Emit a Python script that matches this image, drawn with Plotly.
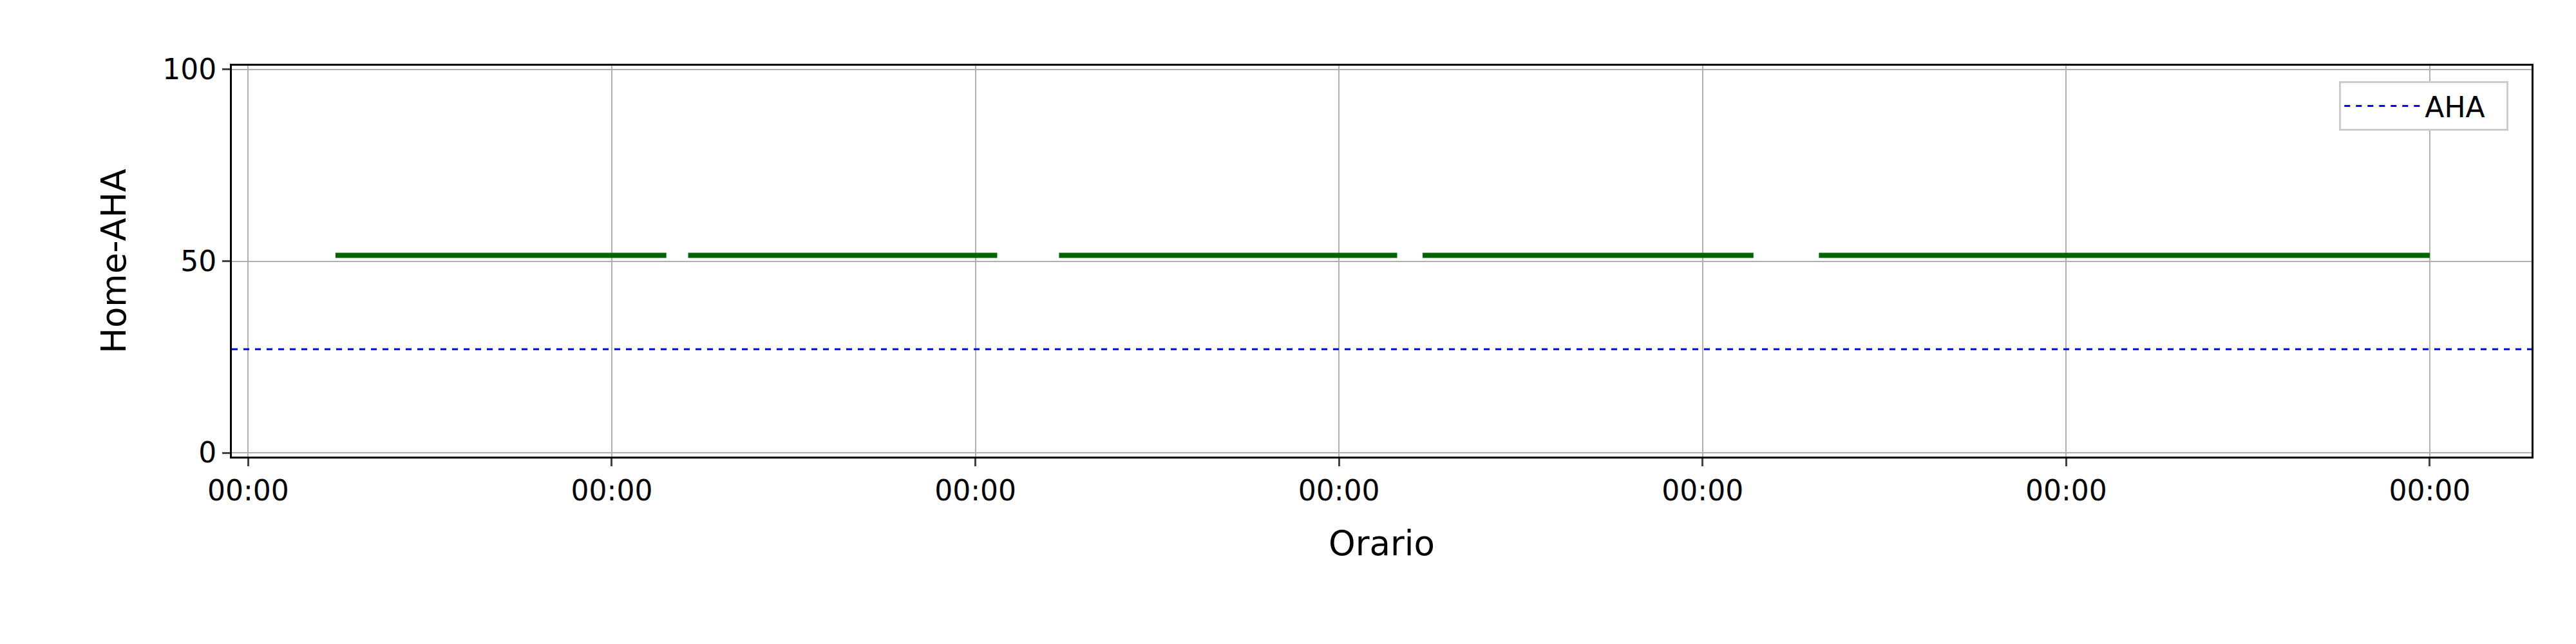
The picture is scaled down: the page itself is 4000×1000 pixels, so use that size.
import plotly.graph_objects as go

# green segments (start, end) in tick units, all at the same level
seg_start = [0.24, 1.21, 2.23, 3.23, 4.32]
seg_end = [1.15, 2.06, 3.16, 4.14, 6.0]
seg_level = 51.5
aha_level = 27
tick_vals = [0, 1, 2, 3, 4, 5, 6]
tick_text = ["00:00"] * 7
x_range = [-0.045, 6.28]

fig = go.Figure()
xs, ys = [], []
for a, b in zip(seg_start, seg_end):
    xs += [a, b, None]
    ys += [seg_level, seg_level, None]
fig.add_trace(go.Scatter(x=xs, y=ys, mode="lines", line=dict(color="#006400", width=8),
                         showlegend=False))
fig.add_trace(go.Scatter(x=x_range, y=[aha_level, aha_level], mode="lines", name="AHA  ",
                         line=dict(color="blue", width=3, dash="dash")))

fig.update_layout(
    width=4000, height=1000,
    margin=dict(l=352, r=77, t=94, b=299),
    plot_bgcolor="white", paper_bgcolor="white",
    font=dict(family="DejaVu Sans", size=44, color="black"),
    legend=dict(x=0.99, y=0.96, xanchor="right", yanchor="top", itemwidth=120,
                bordercolor="#cccccc", borderwidth=3, font=dict(size=44)),
)
fig.update_xaxes(range=x_range, tickvals=tick_vals, ticktext=tick_text,
                 showgrid=True, gridcolor="#b0b0b0", gridwidth=2,
                 showline=True, linecolor="black", linewidth=3, mirror=True,
                 ticks="outside", ticklen=12, tickwidth=3, zeroline=False,
                 title=dict(text="Orario", standoff=40))
fig.update_yaxes(range=[-1, 101], tickvals=[0, 50, 100],
                 showgrid=True, gridcolor="#b0b0b0", gridwidth=2,
                 showline=True, linecolor="black", linewidth=3, mirror=True,
                 ticks="outside", ticklen=12, tickwidth=3, zeroline=False,
                 title=dict(text="Home-AHA", standoff=40))
fig.write_html("out.html")
